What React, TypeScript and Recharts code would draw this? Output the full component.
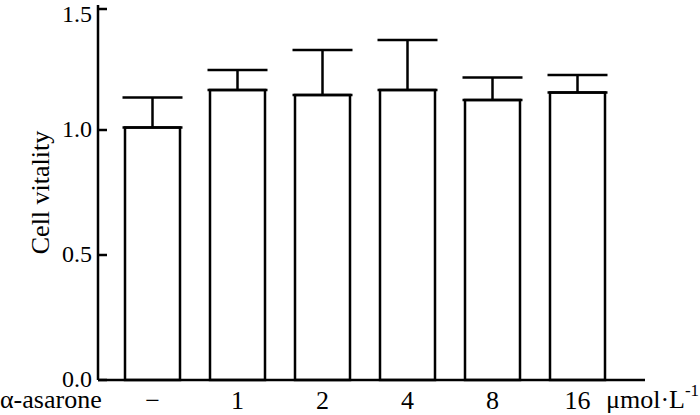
import { BarChart, Bar, XAxis, YAxis, ErrorBar } from "recharts";

// α-asarone concentration groups (µmol·L⁻¹), "−" is the control
const doses = ["−", "1", "2", "4", "8", "16"];
const vitality = [1.01, 1.16, 1.14, 1.16, 1.12, 1.15];
const sd = [0.12, 0.08, 0.18, 0.2, 0.09, 0.07];
const yTicks = [0, 0.5, 1.0, 1.5];

const FONT = "'Liberation Serif', 'Times New Roman', serif";
const INK = "#000";
const FS = 26;

const data = doses.map((d, i) => ({
  dose: d,
  value: vitality[i],
  // upward-only error bar
  err: [0, sd[i]],
}));

// y ticks in the source point into the plot, so draw them ourselves
function YTick(props: any) {
  const { x, y, payload } = props;
  // top label sits a bit lower in the source so it isn't cut by the edge
  const base = Math.max(y + 7, 22);
  return (
    <g>
      <line x1={x + 6} x2={x + 15} y1={y} y2={y} stroke={INK} strokeWidth={2.5} />
      <text x={x} y={base} textAnchor="end" fontFamily={FONT} fontSize={24} fill={INK}>
        {Number(payload.value).toFixed(1)}
      </text>
    </g>
  );
}

export default function App() {
  return (
    <div style={{ position: "absolute", left: 0, top: 0, width: 700, height: 415, background: "#fff" }}>
      <BarChart
        width={700}
        height={415}
        data={data}
        margin={{ top: 5, right: 55, bottom: 0, left: 0 }}
        barSize={55}
      >
        <XAxis
          dataKey="dose"
          height={35}
          padding={{ left: 12, right: 25 }}
          axisLine={{ stroke: INK, strokeWidth: 2.5 }}
          tickLine={false}
          tickSize={0}
          tickMargin={11}
          tick={{ fill: INK, fontSize: FS, fontFamily: FONT }}
          interval={0}
        />
        <YAxis
          width={98}
          domain={[0, 1.5]}
          ticks={yTicks}
          axisLine={{ stroke: INK, strokeWidth: 2.5 }}
          tickLine={false}
          tickSize={0}
          tickMargin={6}
          tick={<YTick />}
          label={{
            value: "Cell vitality",
            angle: -90,
            position: "insideLeft",
            offset: 40,
            style: { textAnchor: "middle", fontFamily: FONT, fontSize: FS, fill: INK },
          }}
        />
        <Bar dataKey="value" fill="#fff" stroke={INK} strokeWidth={2.5} isAnimationActive={false}>
          <ErrorBar dataKey="err" width={30} stroke={INK} strokeWidth={2.5} direction="y" />
        </Bar>
      </BarChart>
      <svg
        width={700}
        height={415}
        style={{ position: "absolute", left: 0, top: 0, pointerEvents: "none" }}
      >
        <text x={0} y={408} fontFamily={FONT} fontSize={FS} fill={INK}>
          α-asarone
        </text>
        <text x={606} y={408} fontFamily={FONT} fontSize={FS} fill={INK}>
          μmol·L
          <tspan dy={-12} fontSize={17}>
            -1
          </tspan>
        </text>
      </svg>
    </div>
  );
}
